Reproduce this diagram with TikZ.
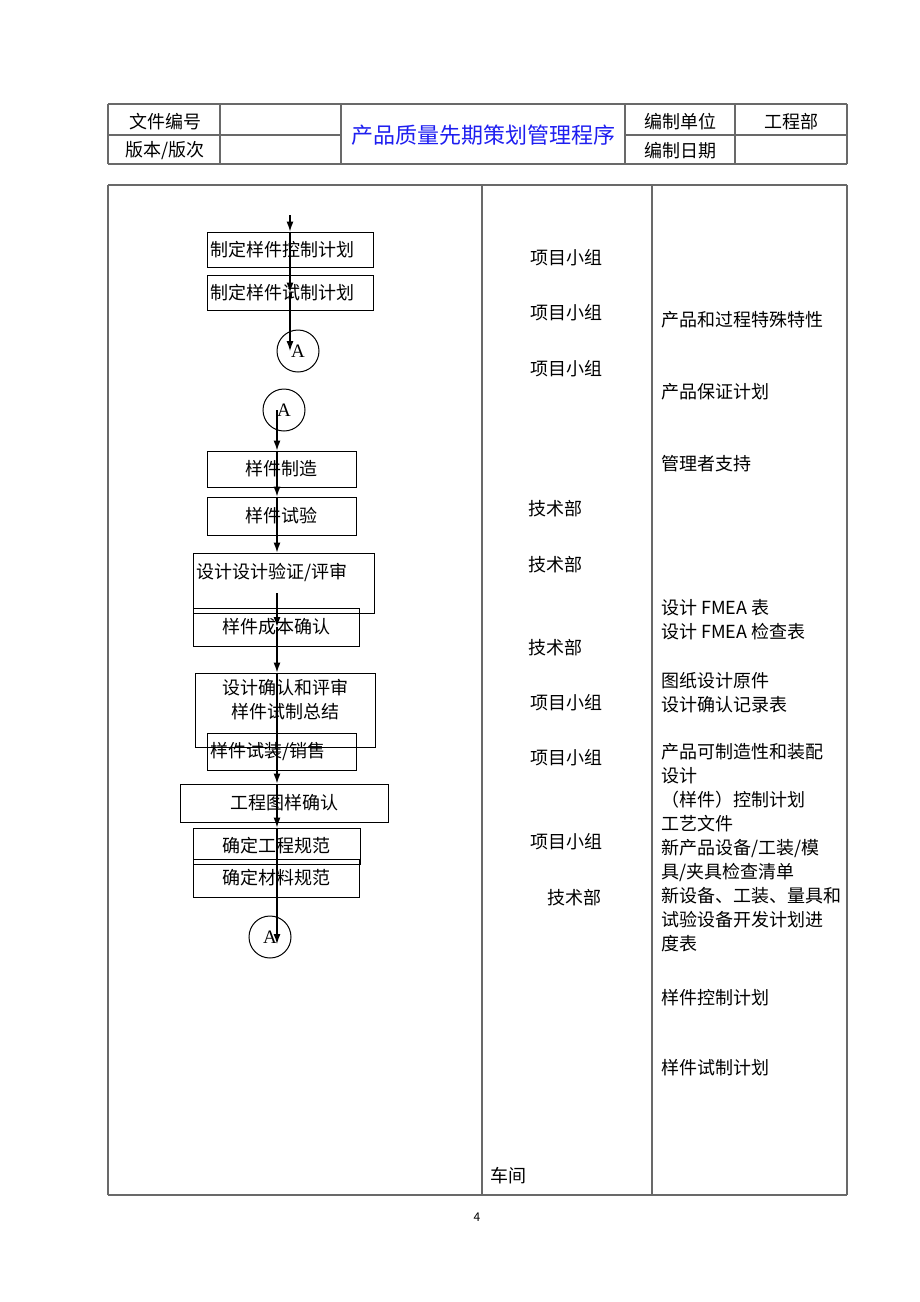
\documentclass[tikz,border=0pt]{standalone}
\usepackage{fontspec}
\setmainfont{Liberation Serif}
\newfontfamily\cjk{Noto Sans CJK SC}
\usetikzlibrary{arrows.meta}
\definecolor{titleblue}{RGB}{30,30,240}
\definecolor{rulegray}{RGB}{105,105,105}

\begin{document}
\begin{tikzpicture}[x=1pt, y=-1pt,
    txt/.style={font=\cjk\fontsize{18}{24}\selectfont, inner sep=0pt},
    box/.style={draw, line width=1pt, inner sep=0pt, font=\cjk\fontsize{18}{24}\selectfont},
    conn/.style={draw, circle, line width=1pt, minimum size=42pt, inner sep=0pt, font=\fontsize{19}{22}\selectfont},
    ar/.style={line width=1.2pt, -{Latex[length=10pt,width=7pt]}},
    rule/.style={draw=rulegray, line width=1.2pt},
    heavy/.style={draw=rulegray, line width=2.6pt}]
    \useasboundingbox (0,0) rectangle (920,1302);

    % header table
    \draw[heavy] (108,104) -- (847,104);
    \draw[heavy] (108,164) -- (847,164);
    \draw[rule] (108,135) -- (341,135) (625,135) -- (847,135);
    \foreach \x in {108,220,341,625,735,847}
        \draw[rule] (\x,104) -- (\x,164);

    \node[txt] (hno) at (165,122) {文件编号};
    \node[txt] (hver) at (165,151) {版本/版次};
    \node[txt, font=\cjk\fontsize{22}{26}\selectfont, text=titleblue] (title) at (483,135) {产品质量先期策划管理程序};
    \node[txt] (hunit) at (680,122) {编制单位};
    \node[txt] (hdept) at (791,122) {工程部};
    \node[txt] (hdate) at (680,151) {编制日期};

    % main table
    \draw[heavy] (108,185) -- (847,185);
    \draw[rule, line width=1.8pt] (108,1195) -- (847,1195);
    \foreach \x in {108,482,652,847}
        \draw[rule] (\x,185) -- (\x,1195);

    % flow chart, upper part
    \coordinate (s0) at (290,215);
    \node[box, minimum height=35pt, inner xsep=3pt, text width=160pt, align=left] (p1) at (290,249.5) {制定样件控制计划};
    \node[box, minimum height=35pt, inner xsep=3pt, text width=160pt, align=left] (p2) at (290,292.5) {制定样件试制计划};
    \node[conn] (c1) at (298,351) {A};

    \draw[ar] (s0) -- (p1.north);
    \draw[ar] (p1.north) -- (p2.center);
    \draw[ar] (p2.center) -- (c1.center -| p2.center);

    % flow chart, lower part
    \node[conn] (c2) at (284,410) {A};
    \node[box, minimum width=149pt, minimum height=36pt] (m1) at (281.5,469) {样件制造};
    \node[box, minimum width=149pt, minimum height=38pt] (m2) at (281.5,516) {样件试验};
    \node[box, minimum width=181pt, minimum height=60pt] (m3) at (283.5,583) {};
    \node[txt, anchor=west] (m3t) at (196,572) {设计设计验证/评审};
    \node[box, minimum width=166pt, minimum height=38pt] (m4) at (276,627) {样件成本确认};
    \node[box, minimum width=180pt, minimum height=74pt] (m5) at (285,710) {};
    \node[txt, align=center] (m5t) at (285,700) {设计确认和评审\\样件试制总结};
    \node[box, minimum height=37pt, inner xsep=3pt, text width=143pt, align=left] (m6) at (281.5,751.5) {样件试装/销售};
    \node[box, minimum width=208pt, minimum height=38pt] (m7) at (284,803) {工程图样确认};
    \node[box, minimum width=167pt, minimum height=36pt] (m8) at (276.5,846) {确定工程规范};
    \node[box, minimum width=166pt, minimum height=38pt] (m9) at (276,878) {确定材料规范};
    \node[conn] (c3) at (270,937) {A};

    \coordinate (axis) at (277,0);
    \coordinate (q) at (277,593);
    \draw[ar] (c2.center -| axis) -- (m1.north -| axis);
    \draw[ar] (m1.north -| axis) -- (m2.north -| axis);
    \draw[ar] (m2.north -| axis) -- (m3.north -| axis);
    \draw[ar] (q) -- (m4.center -| axis);
    \draw[ar] (m4.center -| axis) -- (m5.north -| axis);
    \draw[ar] (m5.north -| axis) -- (m7.north -| axis);
    \draw[ar] (m7.north -| axis) -- (m8.north -| axis);
    \draw[ar] (m8.north -| axis) -- ([yshift=-7pt]c3.center -| axis);

    % responsible
    \node[txt] (r1) at (566.5,258) {项目小组};
    \node[txt] (r2) at (566.5,313) {项目小组};
    \node[txt] (r3) at (566.5,369) {项目小组};
    \node[txt] (r4) at (555,509) {技术部};
    \node[txt] (r5) at (555,565) {技术部};
    \node[txt] (r6) at (555,648) {技术部};
    \node[txt] (r7) at (566.5,703) {项目小组};
    \node[txt] (r8) at (566.5,758) {项目小组};
    \node[txt] (r9) at (566.5,842) {项目小组};
    \node[txt] (r10) at (574,898) {技术部};
    \node[txt, anchor=west] (r11) at (490,1176) {车间};

    % documents
    \node[txt, anchor=west] (d1) at (661,320) {产品和过程特殊特性};
    \node[txt, anchor=west] (d2) at (661,392) {产品保证计划};
    \node[txt, anchor=west] (d3) at (661,464) {管理者支持};
    \node[txt, anchor=west, align=left] (d4) at (661,620) {设计 FMEA 表\\设计 FMEA 检查表};
    \node[txt, anchor=west, align=left] (d5) at (661,692.5) {图纸设计原件\\设计确认记录表};
    \node[txt, anchor=west, align=left] (d6) at (661,847.5) {产品可制造性和装配\\设计\\（样件）控制计划\\工艺文件\\新产品设备/工装/模\\具/夹具检查清单\\新设备、工装、量具和\\试验设备开发计划进\\度表};
    \node[txt, anchor=west] (d7) at (661,998) {样件控制计划};
    \node[txt, anchor=west] (d8) at (661,1068) {样件试制计划};

    \node[txt, font=\cjk\fontsize{12}{14}\selectfont] (pg) at (477,1217) {4};
\end{tikzpicture}
\end{document}
